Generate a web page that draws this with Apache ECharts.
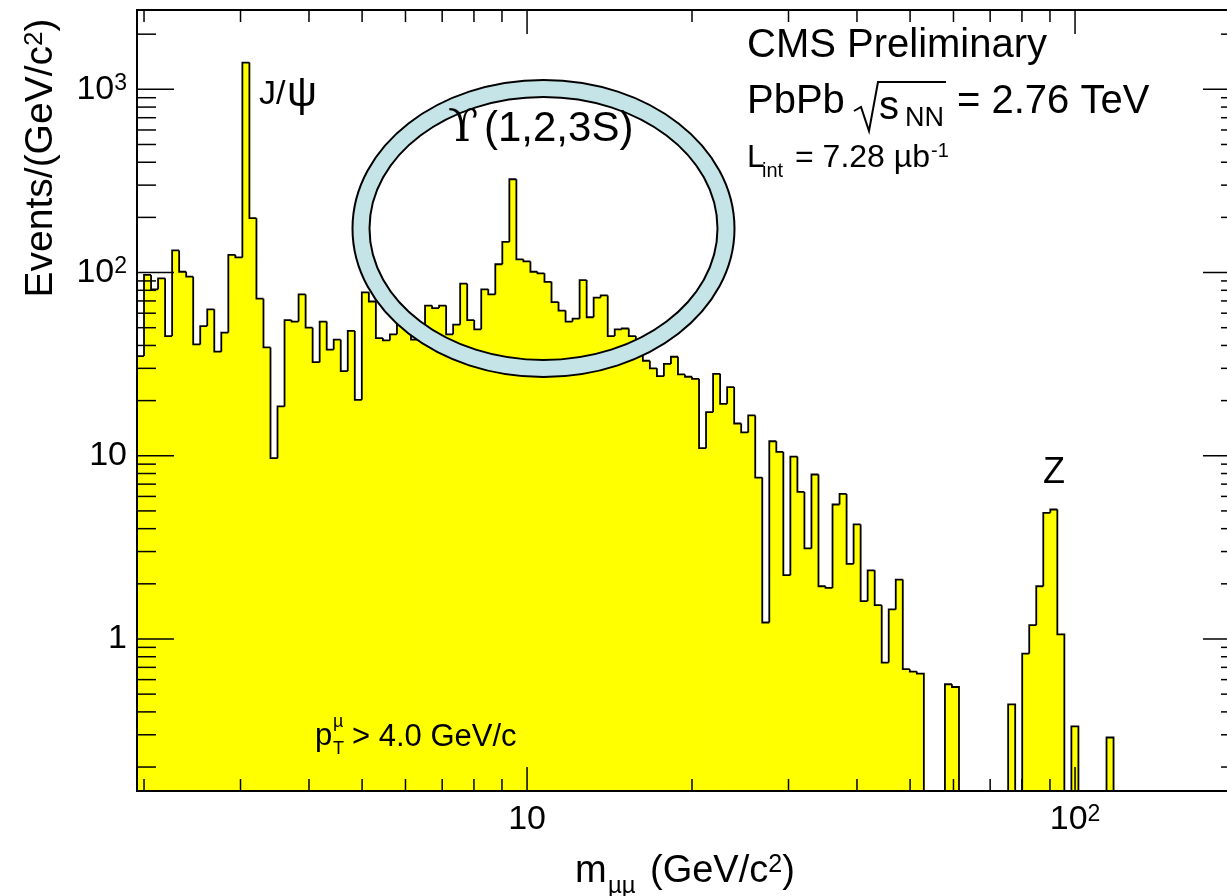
<!DOCTYPE html>
<html><head><meta charset="utf-8">
<script src="https://cdn.jsdelivr.net/npm/echarts@6/dist/echarts.min.js"></script>
<style>html,body{margin:0;padding:0;background:#fff}#c{width:1227px;height:896px}</style>
</head><body><div id="c"></div>
<script>
// ---- data ----
const binLow = 2;            // first full bin edge (GeV/c^2)
const binsPerTwoDecades = 156; // log-uniform binning 2 .. 200
// events per bin; first entry is the bin just below 2 GeV/c^2
const counts = [
  35,
  97, 81, 93, 45, 132, 101, 95, 40.5, 51, 63,
  37, 47, 125, 121, 1400, 198, 72, 39, 9.7, 18.6,
  55, 54, 76, 50, 32.4, 54, 38, 43, 29, 48,
  20.2, 78, 69.5, 43.9, 42.6, 46, 52, 58, 43, 50,
  66, 64, 66, 46, 52, 87, 55, 49, 81, 76,
  111, 147, 323, 118, 115, 101, 99, 89, 69, 62,
  54, 56, 91, 57, 73, 75, 45, 49, 49.5, 45,
  36, 33, 30, 27.2, 31.7, 34.7, 27.8, 27, 26.3, 11,
  17.3, 28, 19.2, 23.7, 15, 13.4, 16.6, 7.6, 1.23, 12,
  10.5, 2.23, 9.9, 6.35, 3.12, 7.9, 1.94, 1.9, 5.42, 6.19,
  2.57, 4.22, 1.61, 2.37, 1.53, 0.743, 1.45, 2.11, 0.684, 0.664,
  0.647, 0, 0, 0, 0.566, 0.547, 0, 0, 0, 0,
  0, 0, 0, 0.44, 0, 0.832, 1.19, 1.94, 4.88, 5.09,
  1.06, 0, 0.333, 0, 0, 0, 0, 0.29
];
const xMax = 200;
const yMin = 0.148, yMax = 2710;
const xTickValues = [2,3,4,5,6,7,8,9,10,20,30,40,50,60,70,80,90,100,200];
const yTickValues = [0.2,0.3,0.4,0.5,0.6,0.7,0.8,0.9,1,2,3,4,5,6,7,8,9,10,20,30,40,50,60,70,80,90,100,200,300,400,500,600,700,800,900,1000,2000];
const xTickLabels = {1: '10', 2: '{b|10}{s|2}'};
const yTickLabels = {0: '1', 1: '10', 2: '{b|10}{s|2}', 3: '{b|10}{s|3}'};

// ---- build ----
const step = 2 / binsPerTwoDecades;
const xMin = binLow * Math.pow(10, -step);
const edge = i => binLow * Math.pow(10, i * step);
const histData = [];
counts.forEach((v, i) => {
  if (v > 0) {
    histData.push([edge(i - 1), edge(i), v, i > 0 ? counts[i - 1] : 0, i < counts.length - 1 ? counts[i + 1] : 0]);
  }
});
const FONT = '"Liberation Sans", Arial, Helvetica, sans-serif';
const isPow10 = v => { const e = Math.log10(v); return Math.abs(e - Math.round(e)) < 1e-6 ? Math.round(e) : null; };

function fillItem(params, api) {
  const cs = params.coordSys, yb = cs.y + cs.height;
  const p0 = api.coord([api.value(0), api.value(2)]);
  const x1 = api.coord([api.value(1), api.value(2)])[0];
  return {type: 'rect', shape: {x: p0[0], y: p0[1], width: x1 - p0[0] + 0.7, height: yb - p0[1]},
          style: {fill: '#ffff00'}};
}
function lineItem(params, api) {
  const cs = params.coordSys, yb = cs.y + cs.height;
  const lo = api.value(0), hi = api.value(1), v = api.value(2), pv = api.value(3), nv = api.value(4);
  const p0 = api.coord([lo, v]);
  const x1 = api.coord([hi, v])[0];
  const yp = pv > 0 ? api.coord([lo, pv])[1] : yb;
  const pts = [[p0[0], yp], [p0[0], p0[1]], [x1, p0[1]]];
  if (!(nv > 0)) pts.push([x1, yb]);
  return {type: 'polyline', shape: {points: pts}, style: {fill: 'none', stroke: '#000', lineWidth: 1.8}};
}
function xTickItem(params, api) {
  const cs = params.coordSys, v = api.value(0);
  const x = api.coord([v, 1])[0];
  const len = isPow10(v) !== null ? 24 : 12;
  const st = {stroke: '#000', lineWidth: 1.5};
  return {type: 'group', children: [
    {type: 'line', shape: {x1: x, y1: cs.y + cs.height, x2: x, y2: cs.y + cs.height - len}, style: st},
    {type: 'line', shape: {x1: x, y1: cs.y, x2: x, y2: cs.y + len}, style: st}
  ]};
}
function yTickItem(params, api) {
  const cs = params.coordSys, v = api.value(1);
  const y = api.coord([2, v])[1];
  const len = isPow10(v) !== null ? 37 : 19;
  const st = {stroke: '#000', lineWidth: 1.5};
  return {type: 'group', children: [
    {type: 'line', shape: {x1: cs.x, y1: y, x2: cs.x + len, y2: y}, style: st},
    {type: 'line', shape: {x1: cs.x + cs.width, y1: y, x2: cs.x + cs.width - len, y2: y}, style: st}
  ]};
}
function frameItem(params) {
  const cs = params.coordSys;
  return {type: 'rect', shape: {x: cs.x, y: cs.y, width: cs.width, height: cs.height},
          style: {fill: 'none', stroke: '#000', lineWidth: 2}};
}

const richNum = {b: {fontSize: 34, lineHeight: 34, fontFamily: FONT, color: '#000'},
                 s: {fontSize: 23, lineHeight: 23, verticalAlign: 'top', fontFamily: FONT, color: '#000'}};

const txt = (x, y, text, size, extra) => Object.assign({
  type: 'text', x: x, y: y, z: 100,
  style: Object.assign({text: text, font: size + 'px ' + FONT, fill: '#000', align: 'left', verticalAlign: 'middle'}, extra || {})
});

const chart = echarts.init(document.getElementById('c'), null, {renderer: 'canvas'});
chart.setOption({
  animation: false,
  backgroundColor: '#ffffff',
  grid: {left: 137, top: 10, width: 1103, height: 781, containLabel: false, outerBoundsMode: 'none'},
  xAxis: {type: 'log', logBase: 10, min: xMin, max: xMax,
    axisLine: {show: false}, axisTick: {show: false}, splitLine: {show: false}, minorTick: {show: false},
    axisLabel: {margin: 12, showMinLabel: false, showMaxLabel: false, rich: richNum,
      formatter: v => { const e = isPow10(v); return e !== null && xTickLabels[e] ? (xTickLabels[e].indexOf('{') === 0 ? xTickLabels[e] : '{b|' + xTickLabels[e] + '}') : ''; }}},
  yAxis: {type: 'log', logBase: 10, min: yMin, max: yMax,
    axisLine: {show: false}, axisTick: {show: false}, splitLine: {show: false}, minorTick: {show: false},
    axisLabel: {margin: 10, showMinLabel: false, showMaxLabel: false, rich: richNum,
      formatter: v => { const e = isPow10(v); return e !== null && yTickLabels[e] ? (yTickLabels[e].indexOf('{') === 0 ? yTickLabels[e] : '{b|' + yTickLabels[e] + '}') : ''; }}},
  series: [
    {type: 'custom', name: 'fill', data: histData, encode: {x: [0, 1], y: 2}, renderItem: fillItem, silent: true, z: 2},
    {type: 'custom', name: 'outline', data: histData, encode: {x: [0, 1], y: 2}, renderItem: lineItem, silent: true, z: 3},
    {type: 'custom', name: 'xticks', data: xTickValues.map(v => [v, 1]), encode: {x: 0, y: 1}, renderItem: xTickItem, silent: true, z: 4},
    {type: 'custom', name: 'yticks', data: yTickValues.map(v => [2, v]), encode: {x: 0, y: 1}, renderItem: yTickItem, silent: true, z: 4},
    {type: 'custom', name: 'frame', data: [[2, 1]], encode: {x: 0, y: 1}, renderItem: frameItem, silent: true, z: 5}
  ],
  graphic: [
    // highlight ring around the Upsilon region
    {type: 'ellipse', z: 50, shape: {cx: 543.5, cy: 228.5, rx: 182.5, ry: 140}, style: {fill: 'none', stroke: '#c5e4e7', lineWidth: 17}},
    {type: 'ellipse', z: 51, shape: {cx: 543.5, cy: 228.5, rx: 191, ry: 148.5}, style: {fill: 'none', stroke: '#000', lineWidth: 2}},
    {type: 'ellipse', z: 51, shape: {cx: 543.5, cy: 228.5, rx: 174, ry: 131.5}, style: {fill: 'none', stroke: '#000', lineWidth: 2}},
    // labels
    txt(259, 95, 'J/', 34),
    txt(287, 94, 'ψ', 42),
    txt(448, 130, 'ϒ', 44, {font: '44px "DejaVu Serif", serif'}),
    txt(484, 129, '(1,2,3S)', 42),
    txt(1054, 473, 'Z', 36, {align: 'center'}),
    txt(747, 46, 'CMS Preliminary', 40),
    txt(747, 102, 'PbPb', 40),
    {type: 'polyline', z: 100, shape: {points: [[854, 111], [861, 107], [869, 131], [878, 82], [946, 82]]}, style: {fill: 'none', stroke: '#000', lineWidth: 2}},
    txt(879, 108, 's', 40),
    txt(905, 119, 'NN', 27),
    txt(957, 102, '= 2.76 TeV', 40),
    txt(747, 158, 'L', 32),
    txt(762, 171, 'int', 20),
    txt(795, 158, '= 7.28 µb', 32),
    txt(931, 151, '-1', 20),
    txt(315, 736, 'p', 31),
    txt(333, 749, 'T', 18),
    txt(333, 722, 'µ', 18),
    txt(352, 737, '> 4.0 GeV/c', 31),
    txt(575, 872, 'm', 38),
    txt(608, 886, 'µµ', 24),
    {type: 'text', x: 650, y: 872, z: 100, style: {text: '(GeV/c{s|2})', font: '38px ' + FONT, fill: '#000', align: 'left', verticalAlign: 'middle',
      rich: {s: {fontSize: 25, lineHeight: 25, verticalAlign: 'top', fontFamily: FONT}}}},
    {type: 'text', x: 41, y: 158, rotation: Math.PI / 2, z: 100, style: {text: 'Events/(GeV/c{s|2})', font: '39px ' + FONT, fill: '#000', align: 'center', verticalAlign: 'middle',
      rich: {s: {fontSize: 26, lineHeight: 26, verticalAlign: 'top', fontFamily: FONT}}}}
  ]
});
</script></body></html>
